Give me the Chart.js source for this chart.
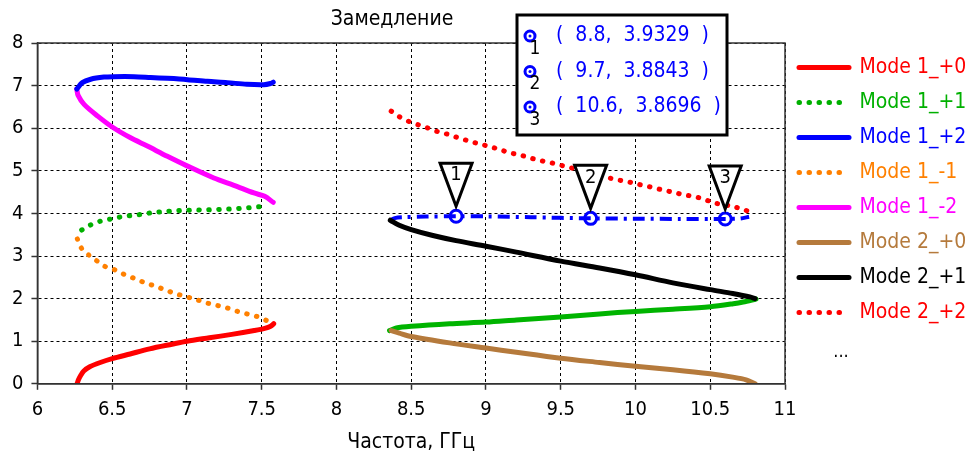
<!DOCTYPE html>
<html lang="ru">
<head>
    <meta charset="UTF-8">
    <title>Замедление</title>
    <script src="https://cdn.jsdelivr.net/npm/chart.js"></script>
    <style>
        body {
            margin: 0;
            background-color: #fff;
        }
        .chart-box {
            width: 976px;
            height: 459px;
        }
    </style>
</head>
<body>
    <div class="chart-box">
        <canvas id="slowChart"></canvas>
    </div>
    <script>
        // Mode 1, harmonics
        const mode1p0X = [6.265, 6.275, 6.29, 6.31, 6.35, 6.42, 6.5, 6.62, 6.75, 6.9, 7.0, 7.15, 7.3, 7.45, 7.52, 7.56, 7.58];
        const mode1p0Y = [0.0, 0.1, 0.2, 0.3, 0.4, 0.5, 0.59, 0.7, 0.82, 0.93, 1.0, 1.08, 1.16, 1.25, 1.3, 1.35, 1.41];

        const mode1p1X = [6.296, 6.356, 6.423, 6.494, 6.561, 6.63, 6.702, 6.773, 6.84, 6.909, 6.978, 7.047, 7.118, 7.192, 7.261, 7.332, 7.401, 7.47, 7.537];
        const mode1p1Y = [3.61, 3.73, 3.82, 3.87, 3.92, 3.95, 3.98, 4.02, 4.04, 4.06, 4.07, 4.08, 4.08, 4.09, 4.10, 4.11, 4.13, 4.15, 4.18];

        const mode1p2X = [6.263, 6.30, 6.356, 6.445, 6.508, 6.646, 6.757, 6.869, 7.004, 7.136, 7.27, 7.40, 7.514, 7.559, 7.577];
        const mode1p2Y = [6.92, 7.07, 7.15, 7.20, 7.21, 7.21, 7.19, 7.17, 7.14, 7.10, 7.07, 7.03, 7.02, 7.05, 7.08];

        const mode1m1X = [7.53, 7.46, 7.39, 7.33, 7.26, 7.19, 7.13, 7.06, 6.99, 6.92, 6.85, 6.79, 6.72, 6.66, 6.59, 6.53, 6.46, 6.40, 6.345, 6.295, 6.267];
        const mode1m1Y = [1.49, 1.59, 1.65, 1.71, 1.79, 1.85, 1.90, 1.98, 2.05, 2.12, 2.21, 2.29, 2.37, 2.46, 2.55, 2.66, 2.74, 2.88, 3.02, 3.18, 3.40];

        const mode1m2X = [6.263, 6.272, 6.312, 6.401, 6.508, 6.62, 6.735, 6.869, 7.004, 7.18, 7.314, 7.448, 7.52, 7.577];
        const mode1m2Y = [6.92, 6.77, 6.56, 6.29, 6.01, 5.78, 5.58, 5.34, 5.11, 4.83, 4.66, 4.48, 4.40, 4.26];

        // Mode 2, harmonics
        const mode2p0X = [8.366, 8.42, 8.5, 8.757, 9.0, 9.203, 9.5, 9.76, 10.0, 10.25, 10.5, 10.65, 10.74, 10.8];
        const mode2p0Y = [1.25, 1.19, 1.11, 0.96, 0.84, 0.74, 0.60, 0.50, 0.41, 0.33, 0.235, 0.157, 0.094, 0.0];

        const mode2p1X = [8.36, 8.42, 8.5, 8.645, 8.8, 9.0, 9.203, 9.5, 9.76, 10.0, 10.25, 10.5, 10.65, 10.765, 10.8];
        const mode2p1Y = [3.84, 3.72, 3.62, 3.48, 3.36, 3.23, 3.09, 2.88, 2.72, 2.56, 2.37, 2.21, 2.12, 2.04, 2.0];

        const mode2p2X = [8.366, 8.42, 8.489, 8.556, 8.623, 8.685, 8.752, 8.819, 8.886, 8.958, 9.025, 9.09, 9.163, 9.23, 9.297, 9.364, 9.435, 9.502, 9.569, 9.839, 9.906, 9.978, 10.045, 10.114, 10.18, 10.248, 10.319, 10.386, 10.453, 10.524, 10.665, 10.732, 10.795];
        const mode2p2Y = [6.40, 6.27, 6.15, 6.07, 5.99, 5.91, 5.85, 5.77, 5.70, 5.63, 5.57, 5.50, 5.42, 5.37, 5.30, 5.24, 5.19, 5.13, 5.07, 4.82, 4.77, 4.72, 4.66, 4.61, 4.55, 4.50, 4.44, 4.40, 4.34, 4.25, 4.15, 4.08, 3.98];

        const mode2m1X = [10.806, 10.72, 10.654, 10.5, 10.25, 10.0, 9.76, 9.5, 9.203, 9.0, 8.757, 8.5, 8.4, 8.355];
        const mode2m1Y = [1.99, 1.92, 1.88, 1.81, 1.75, 1.70, 1.64, 1.57, 1.50, 1.45, 1.41, 1.35, 1.31, 1.25];

        const mode2m2X = [8.36, 8.39, 8.45, 8.6, 8.8, 9.0, 9.3, 9.7, 10.0, 10.3, 10.6, 10.7, 10.76];
        const mode2m2Y = [3.84, 3.89, 3.91, 3.925, 3.933, 3.93, 3.91, 3.884, 3.875, 3.87, 3.8696, 3.88, 3.92];

        // markers 1..3
        const markerX = [8.8, 9.7, 10.6];
        const markerY = [3.9329, 3.8843, 3.8696];

        const xTicks = { min: 6, max: 11, step: 0.5 };
        const yTicks = { min: 0, max: 8, step: 1 };

        const FONT = '"DejaVu Sans Condensed", "DejaVu Sans", sans-serif';

        function pts(xs, ys) {
            return xs.map((x, i) => ({ x: x, y: ys[i] }));
        }

        const solid = (label, color, xs, ys) => ({
            label, data: pts(xs, ys), borderColor: color, backgroundColor: color,
            borderWidth: 5, borderCapStyle: 'round', borderJoinStyle: 'round',
            showLine: true, tension: 0.3, pointRadius: 0, pointHoverRadius: 0
        });
        const dotted = (label, color, xs, ys) => ({
            ...solid(label, color, xs, ys), borderDash: [0.5, 9.5]
        });

        const datasets = [
            solid('Mode 1_+0', '#ff0000', mode1p0X, mode1p0Y),
            dotted('Mode 1_+1', '#00b000', mode1p1X, mode1p1Y),
            solid('Mode 1_+2', '#0000ff', mode1p2X, mode1p2Y),
            dotted('Mode 1_-1', '#ff8000', mode1m1X, mode1m1Y),
            solid('Mode 1_-2', '#ff00ff', mode1m2X, mode1m2Y),
            solid('Mode 2_+0', '#b57a3c', mode2p0X, mode2p0Y),
            solid('Mode 2_+1', '#000000', mode2p1X, mode2p1Y),
            dotted('Mode 2_+2', '#ff0000', mode2p2X, mode2p2Y),
            solid('Mode 2_-1', '#00b400', mode2m1X, mode2m1Y),
            { ...solid('Mode 2_-2', '#0000ff', mode2m2X, mode2m2Y), borderWidth: 4, borderCapStyle: 'butt', borderDash: [12, 6, 3, 6] },
            {
                label: 'markers', data: pts(markerX, markerY), showLine: false,
                pointRadius: 6, pointBorderWidth: 3, pointBorderColor: '#0000ff', pointBackgroundColor: '#fff'
            },
            {
                label: 'marker dots', data: pts(markerX, markerY), showLine: false,
                pointRadius: 1.6, pointBorderWidth: 0, pointBackgroundColor: '#0000ff'
            }
        ];
        const legendCount = 8;

        // frame, title, marker triangles and marker table
        const decorations = {
            id: 'decorations',
            afterDatasetsDraw(chart) {
                const ctx = chart.ctx;
                const xs = chart.scales.x, ys = chart.scales.y;
                ctx.save();
                markerX.forEach((mx, i) => {
                    const px = xs.getPixelForValue(mx);
                    const py = ys.getPixelForValue(markerY[i]);
                    ctx.beginPath();
                    ctx.moveTo(px - 16, py - 53);
                    ctx.lineTo(px + 16, py - 53);
                    ctx.lineTo(px, py - 10);
                    ctx.closePath();
                    ctx.fillStyle = '#fff';
                    ctx.fill();
                    ctx.lineWidth = 3;
                    ctx.lineJoin = 'miter';
                    ctx.strokeStyle = '#000';
                    ctx.stroke();
                    ctx.fillStyle = '#000';
                    ctx.font = '20px ' + FONT;
                    ctx.textAlign = 'center';
                    ctx.textBaseline = 'middle';
                    ctx.fillText(String(i + 1), px, py - 41);
                });
                ctx.restore();
            },
            afterDraw(chart) {
                const ctx = chart.ctx;
                const a = chart.chartArea;
                ctx.save();
                ctx.strokeStyle = '#333';
                ctx.lineWidth = 1.5;
                ctx.strokeRect(a.left, a.top, a.right - a.left, a.bottom - a.top);

                ctx.fillStyle = '#000';
                ctx.font = '21px ' + FONT;
                ctx.textAlign = 'center';
                ctx.textBaseline = 'middle';
                ctx.fillText('Замедление', 392, 20);

                // marker table
                ctx.fillStyle = '#fff';
                ctx.fillRect(517, 15, 210, 120);
                ctx.lineWidth = 3;
                ctx.strokeStyle = '#000';
                ctx.strokeRect(517, 15, 210, 120);
                markerX.forEach((mx, i) => {
                    const cy = 36 + i * 35.5;
                    ctx.beginPath();
                    ctx.arc(530, cy, 5, 0, Math.PI * 2);
                    ctx.fillStyle = '#fff';
                    ctx.fill();
                    ctx.lineWidth = 3;
                    ctx.strokeStyle = '#0000ff';
                    ctx.stroke();
                    ctx.beginPath();
                    ctx.arc(530, cy, 1.5, 0, Math.PI * 2);
                    ctx.fillStyle = '#0000ff';
                    ctx.fill();
                    ctx.fillStyle = '#000';
                    ctx.font = '19px ' + FONT;
                    ctx.textAlign = 'center';
                    ctx.fillText(String(i + 1), 535, cy + 13);
                    ctx.fillStyle = '#0000ff';
                    ctx.font = '21px ' + FONT;
                    ctx.textAlign = 'left';
                    ctx.fillText('(  ' + mx + ',  ' + markerY[i].toFixed(4) + '  )', 556, cy);
                });

                // "..." under the legend
                const boxes = chart.legend.legendHitBoxes;
                if (boxes && boxes.length > legendCount) {
                    const b = boxes[legendCount];
                    ctx.fillStyle = '#000';
                    ctx.font = '18px ' + FONT;
                    ctx.textAlign = 'center';
                    ctx.textBaseline = 'alphabetic';
                    ctx.fillText('...', b.left + 42, b.top + 20);
                }
                ctx.restore();
            }
        };

        new Chart(document.getElementById('slowChart'), {
            type: 'scatter',
            data: { datasets: datasets },
            plugins: [decorations],
            options: {
                responsive: true,
                maintainAspectRatio: false,
                animation: false,
                layout: { padding: { left: 4, top: 43, right: 0, bottom: 0 } },
                plugins: {
                    tooltip: { enabled: false },
                    title: { display: false },
                    legend: {
                        position: 'right',
                        align: 'start',
                        maxWidth: 191,
                        labels: {
                            font: { family: FONT, size: 21 },
                            usePointStyle: true,
                            pointStyle: 'line',
                            pointStyleWidth: 50,
                            padding: 14,
                            generateLabels(chart) {
                                const items = chart.data.datasets.slice(0, legendCount).map((ds, i) => ({
                                    text: ds.label,
                                    fillStyle: ds.borderColor,
                                    strokeStyle: ds.borderColor,
                                    fontColor: ds.borderColor,
                                    lineWidth: ds.borderWidth,
                                    lineDash: ds.borderDash || [],
                                    lineCap: ds.borderCapStyle,
                                    pointStyle: 'line',
                                    hidden: false,
                                    datasetIndex: i
                                }));
                                items.push({
                                    text: ' ', fillStyle: 'rgba(0,0,0,0)', strokeStyle: 'rgba(0,0,0,0)',
                                    fontColor: '#000', lineWidth: 0, pointStyle: 'line', hidden: false
                                });
                                return items;
                            }
                        },
                        onClick() {}
                    }
                },
                scales: {
                    x: {
                        type: 'linear',
                        min: xTicks.min,
                        max: xTicks.max,
                        ticks: {
                            stepSize: xTicks.step,
                            color: '#000',
                            padding: 8,
                            font: { family: FONT, size: 20 },
                            callback: v => String(v)
                        },
                        grid: { color: '#000', lineWidth: 1, tickLength: 6, tickColor: '#333', tickWidth: 1.5 },
                        border: { color: '#333', width: 1.5, dash: [3, 3] },
                        title: {
                            display: true,
                            text: 'Частота, ГГц',
                            color: '#000',
                            font: { family: FONT, size: 21 },
                            padding: { top: 0, bottom: 4 }
                        }
                    },
                    y: {
                        type: 'linear',
                        min: yTicks.min,
                        max: yTicks.max,
                        ticks: {
                            stepSize: yTicks.step,
                            color: '#000',
                            padding: 8,
                            font: { family: FONT, size: 20 }
                        },
                        grid: { color: '#000', lineWidth: 1, tickLength: 6, tickColor: '#333', tickWidth: 1.5 },
                        border: { color: '#333', width: 1.5, dash: [3, 3] }
                    }
                }
            }
        });
    </script>
</body>
</html>
